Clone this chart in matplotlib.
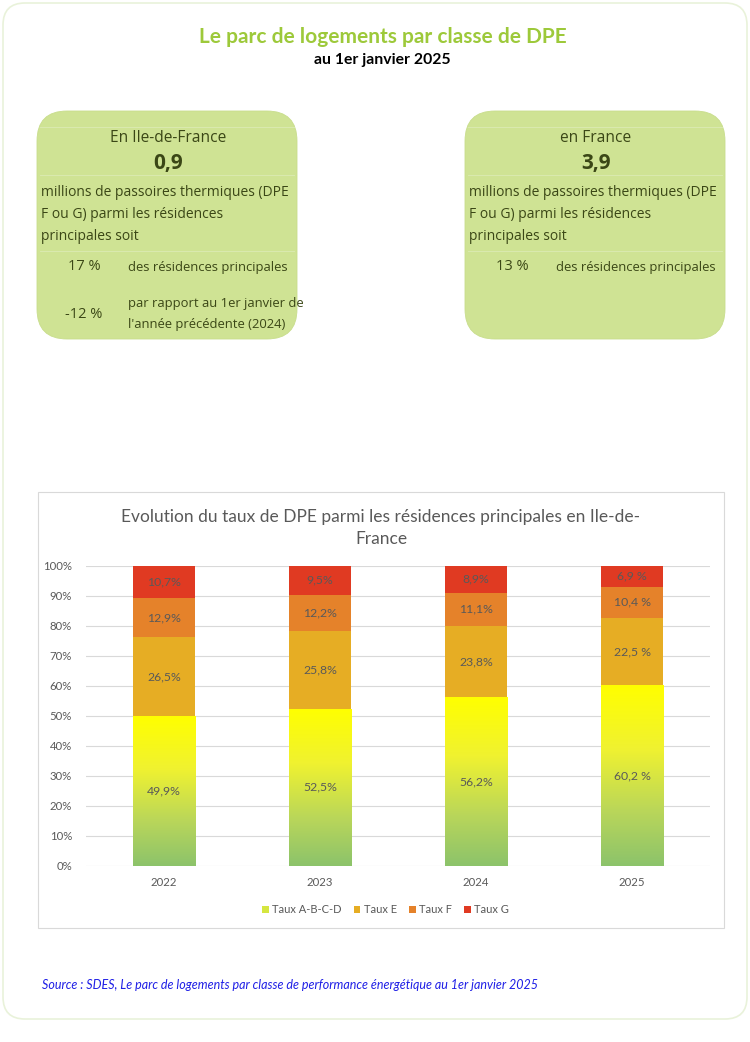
import numpy as np
import matplotlib
matplotlib.use('Agg')
import matplotlib.pyplot as plt
from matplotlib.patches import FancyBboxPatch, Patch
from matplotlib.colors import LinearSegmentedColormap

# data
years = ['2022', '2023', '2024', '2025']
taux_abcd = [49.9, 52.5, 56.2, 60.2]
taux_e = [26.5, 25.8, 23.8, 22.5]
taux_f = [12.9, 12.2, 11.1, 10.4]
taux_g = [10.7, 9.5, 8.9, 6.9]
lab_abcd = ['49,9%', '52,5%', '56,2%', '60,2 %']
lab_e = ['26,5%', '25,8%', '23,8%', '22,5 %']
lab_f = ['12,9%', '12,2%', '11,1%', '10,4 %']
lab_g = ['10,7%', '9,5%', '8,9%', '6,9 %']
series_names = ['Taux A-B-C-D', 'Taux E', 'Taux F', 'Taux G']

card_font = 'Open Sans'
chart_font = 'Lato'
card_col = '#cfe394'
card_txt = '#3b4716'
grey = '#595959'

fig = plt.figure(figsize=(7.5, 10.42), dpi=100)

# background in pixel coords
bg = fig.add_axes([0, 0, 1, 1])
bg.set_xlim(0, 750)
bg.set_ylim(1042, 0)
bg.axis('off')

bg.add_patch(FancyBboxPatch((3, 3), 744, 1016, boxstyle='round,pad=0,rounding_size=22',
                            fc='white', ec='#e9f2da', lw=1.2))

bg.text(383, 37, 'Le parc de logements par classe de DPE', ha='center', va='center',
        fontsize=15, fontweight='bold', color='#9dc93a', family=chart_font)
bg.text(382, 60, 'au 1er janvier 2025', ha='center', va='center',
        fontsize=11.3, fontweight='bold', color='black', family=chart_font)

# cards
for x0 in (37, 465):
    bg.add_patch(FancyBboxPatch((x0, 111), 260, 228, boxstyle='round,pad=0,rounding_size=30',
                                fc=card_col, ec='#c8dd8c', lw=0.6))

def card(x0, lieu, nombre, rows):
    cx = x0 + 131
    bg.plot([x0 + 3, x0 + 257], [127, 127], color='#dcebb4', lw=0.6)
    bg.plot([x0 + 3, x0 + 257], [175, 175], color='#dcebb4', lw=0.6)
    bg.plot([x0 + 3, x0 + 257], [251, 251], color='#dcebb4', lw=0.6)
    bg.text(cx, 138, lieu, ha='center', va='center', fontsize=11.2, color=card_txt, family=card_font)
    bg.text(cx, 163, nombre, ha='center', va='center', fontsize=15, fontweight='bold',
            color=card_txt, family=card_font)
    for i, line in enumerate(['millions de passoires thermiques (DPE',
                              'F ou G) parmi les résidences', 'principales soit']):
        bg.text(x0 + 4, 192 + i * 22.5, line, ha='left', va='center', fontsize=10,
                color=card_txt, family=card_font)
    for pct, y, lines in rows:
        bg.text(x0 + 47, y, pct, ha='center', va='center', fontsize=10.5, color=card_txt, family=card_font)
        off = (len(lines) - 1) * 10.5
        for j, l in enumerate(lines):
            bg.text(x0 + 91, y - off + j * 21, l, ha='left', va='center', fontsize=9.4,
                    color=card_txt, family=card_font)

card(37, 'En Ile-de-France', '0,9',
     [('17 %', 267, ['des résidences principales']),
      ('-12 %', 314, ['par rapport au 1er janvier de', "l'année précédente (2024)"])])
card(465, 'en France', '3,9',
     [('13 %', 267, ['des résidences principales'])])

# chart frame
bg.add_patch(plt.Rectangle((38, 492), 686, 436, fc='white', ec='#d9d9d9', lw=0.8))
bg.text(381, 517, 'Evolution du taux de DPE parmi les résidences principales en Ile-de-',
        ha='center', va='center', fontsize=12.5, color=grey, family=chart_font)
bg.text(381, 539, 'France', ha='center', va='center', fontsize=12.5, color=grey, family=chart_font)

bg.text(42, 985, 'Source : SDES, Le parc de logements par classe de performance énergétique au 1er janvier 2025',
        ha='left', va='center', fontsize=9, style='italic', color='#1f1fe6', family=chart_font)

# chart
ax = fig.add_axes([86 / 750, 176 / 1042, 624 / 750, 300 / 1042])
ax.patch.set_alpha(0)
x = np.arange(len(years))
w = 0.4
abcd = np.array(taux_abcd)
e = np.array(taux_e)
f = np.array(taux_f)
g = np.array(taux_g)

cmap = LinearSegmentedColormap.from_list('dpe', [(0, '#8cc36b'), (0.3, '#b9d65a'),
                                                 (0.65, '#f0f230'), (1, '#ffff00')])
bars = ax.bar(x, abcd, w, color='#ffff00', lw=0, zorder=2)
grad = np.linspace(0, 1, 256).reshape(-1, 1)
for b, v in zip(bars, abcd):
    im = ax.imshow(grad, cmap=cmap, origin='lower', aspect='auto', zorder=2.5,
                   extent=[b.get_x(), b.get_x() + b.get_width(), 0, v])
    im.set_clip_path(b)
ax.bar(x, e, w, bottom=abcd, color='#e6ad24', lw=0, zorder=2)
ax.bar(x, f, w, bottom=abcd + e, color='#e5822a', lw=0, zorder=2)
ax.bar(x, g, w, bottom=abcd + e + f, color='#e03a22', lw=0, zorder=2)

for i in range(len(years)):
    bottoms = [0, abcd[i], abcd[i] + e[i], abcd[i] + e[i] + f[i]]
    vals = [abcd[i], e[i], f[i], g[i]]
    labs = [lab_abcd[i], lab_e[i], lab_f[i], lab_g[i]]
    for bt, v, l in zip(bottoms, vals, labs):
        ax.text(x[i], bt + v / 2, l, ha='center', va='center', fontsize=8.8,
                color=grey, family=chart_font, zorder=4)

ax.set_xlim(-0.5, 3.5)
ax.set_ylim(0, 100)
ax.set_yticks(np.arange(0, 101, 10))
ax.set_yticklabels([f'{t}%' for t in range(0, 101, 10)])
ax.set_xticks(x)
ax.set_xticklabels(years)
ax.grid(axis='y', color='#d9d9d9', lw=0.8, zorder=0)
ax.set_axisbelow(True)
for s in ax.spines.values():
    s.set_visible(False)
ax.tick_params(length=0, labelsize=8.2, colors=grey, pad=8)
ax.tick_params(axis='y', pad=10)
for t in ax.get_xticklabels() + ax.get_yticklabels():
    t.set_family(chart_font)

handles = [Patch(fc='#d5e640'), Patch(fc='#e6ad24'), Patch(fc='#e5822a'), Patch(fc='#e03a22')]
ax.legend(handles, series_names, loc='center', bbox_to_anchor=(0.48, -0.145), ncol=4,
          frameon=False, handlelength=0.6, handleheight=0.6, handletextpad=0.3,
          columnspacing=1.1, prop={'family': chart_font, 'size': 8}, labelcolor=grey)

fig.savefig('out.png', dpi=100)
